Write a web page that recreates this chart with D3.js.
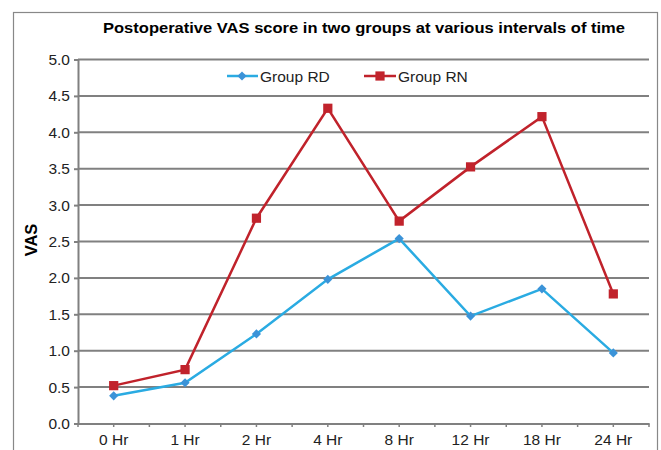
<!DOCTYPE html>
<html><head><meta charset="utf-8">
<script src="https://cdn.jsdelivr.net/npm/d3@7"></script>
<style>body{margin:0;background:#fff}svg{display:block;font-family:"Liberation Sans",Arial,sans-serif}</style>
</head><body>
<svg id="c" width="661" height="450"></svg>
<script>
const categories = ["0 Hr","1 Hr","2 Hr","4 Hr","8 Hr","12 Hr","18 Hr","24 Hr"];
const groupRD = [0.38,0.56,1.23,1.98,2.54,1.475,1.85,0.97];
const groupRN = [0.52,0.74,2.82,4.33,2.78,3.525,4.215,1.78];
const yTicks = [0,0.5,1,1.5,2,2.5,3,3.5,4,4.5,5];
const title = "Postoperative VAS score in two groups at various intervals of time";

const svg = d3.select("#c");
const m = {l:78, r:649, t:59.5, b:423.5};
const x = d3.scaleBand().domain(categories).range([m.l, m.r]);
const y = d3.scaleLinear().domain([0,5]).range([m.b, m.t]);
const FONT = "Liberation Sans, Arial, sans-serif";

svg.append("rect").attr("x",13.5).attr("y",12.5).attr("width",644).attr("height",460)
  .attr("fill","none").attr("stroke","#888").attr("stroke-width",1.2);

svg.append("text").attr("x",364).attr("y",33).attr("text-anchor","middle")
  .attr("font-weight","bold").attr("font-size",15.5)
  .attr("textLength",522).attr("lengthAdjust","spacingAndGlyphs").text(title);

// gridlines
svg.append("g").selectAll("line").data(yTicks.filter(d=>d>0)).join("line")
  .attr("x1",m.l).attr("x2",m.r).attr("y1",d=>y(d)).attr("y2",d=>y(d))
  .attr("stroke","#808080").attr("stroke-width",2);

// y axis
const ya = svg.append("g").attr("transform",`translate(${m.l},0)`)
  .call(d3.axisLeft(y).tickValues(yTicks).tickFormat(d3.format(".1f")).tickSize(4).tickPadding(4));
ya.select(".domain").attr("stroke","#808080").attr("stroke-width",2);
ya.selectAll(".tick line").attr("stroke","#808080").attr("stroke-width",2);
ya.selectAll("text").attr("font-size",15.5).attr("fill","#222").attr("font-family",FONT);

// x axis
const xa = svg.append("g").attr("transform",`translate(0,${m.b})`)
  .call(d3.axisBottom(x).tickSize(0).tickPadding(10));
xa.select(".domain").attr("stroke","#808080").attr("stroke-width",2);
xa.selectAll("text").attr("font-size",15.5).attr("fill","#222").attr("font-family",FONT);
const halfSteps = d3.range(categories.length*2 + 1);
svg.append("g").selectAll("line").data(halfSteps).join("line")
  .attr("x1",i=>m.l + i*x.bandwidth()/2).attr("x2",i=>m.l + i*x.bandwidth()/2)
  .attr("y1",m.b).attr("y2",m.b+3.5).attr("stroke","#808080").attr("stroke-width",1.5);

svg.append("text").attr("transform","translate(37,240) rotate(-90)").attr("text-anchor","middle")
  .attr("font-weight","bold").attr("font-size",16.5).text("VAS");

const cx = d=>x(d)+x.bandwidth()/2;
const line = vals => d3.line().x((d,i)=>cx(categories[i])).y(d=>y(d))(vals);

const rdColor = "#2aabe2", rdMark = "#3b93d8";
const rnColor = "#c0222b", rnMark = "#c1232c";

svg.append("path").attr("d",line(groupRN)).attr("fill","none").attr("stroke",rnColor).attr("stroke-width",2.5);
svg.append("path").attr("d",line(groupRD)).attr("fill","none").attr("stroke",rdColor).attr("stroke-width",2.5);

const sq = d3.symbol().type(d3.symbolSquare).size(85);
const di = d3.symbol().type(d3.symbolSquare).size(42);
svg.append("g").selectAll("path").data(groupRN).join("path")
  .attr("d",sq).attr("transform",(d,i)=>`translate(${cx(categories[i])},${y(d)})`).attr("fill",rnMark);
svg.append("g").selectAll("path").data(groupRD).join("path")
  .attr("d",di).attr("transform",(d,i)=>`translate(${cx(categories[i])},${y(d)}) rotate(45)`).attr("fill",rdMark);

// legend
const lg = svg.append("g");
lg.append("line").attr("x1",227).attr("x2",258).attr("y1",76).attr("y2",76).attr("stroke",rdColor).attr("stroke-width",2.5);
lg.append("path").attr("d",di).attr("transform","translate(242,76) rotate(45)").attr("fill",rdMark);
lg.append("text").attr("x",260).attr("y",81.5).attr("font-size",15.5).attr("fill","#222").text("Group RD");
lg.append("line").attr("x1",364).attr("x2",396).attr("y1",76).attr("y2",76).attr("stroke",rnColor).attr("stroke-width",2.5);
lg.append("path").attr("d",sq).attr("transform","translate(380,76)").attr("fill",rnMark);
lg.append("text").attr("x",398).attr("y",81.5).attr("font-size",15.5).attr("fill","#222").text("Group RN");
</script>
</body></html>
